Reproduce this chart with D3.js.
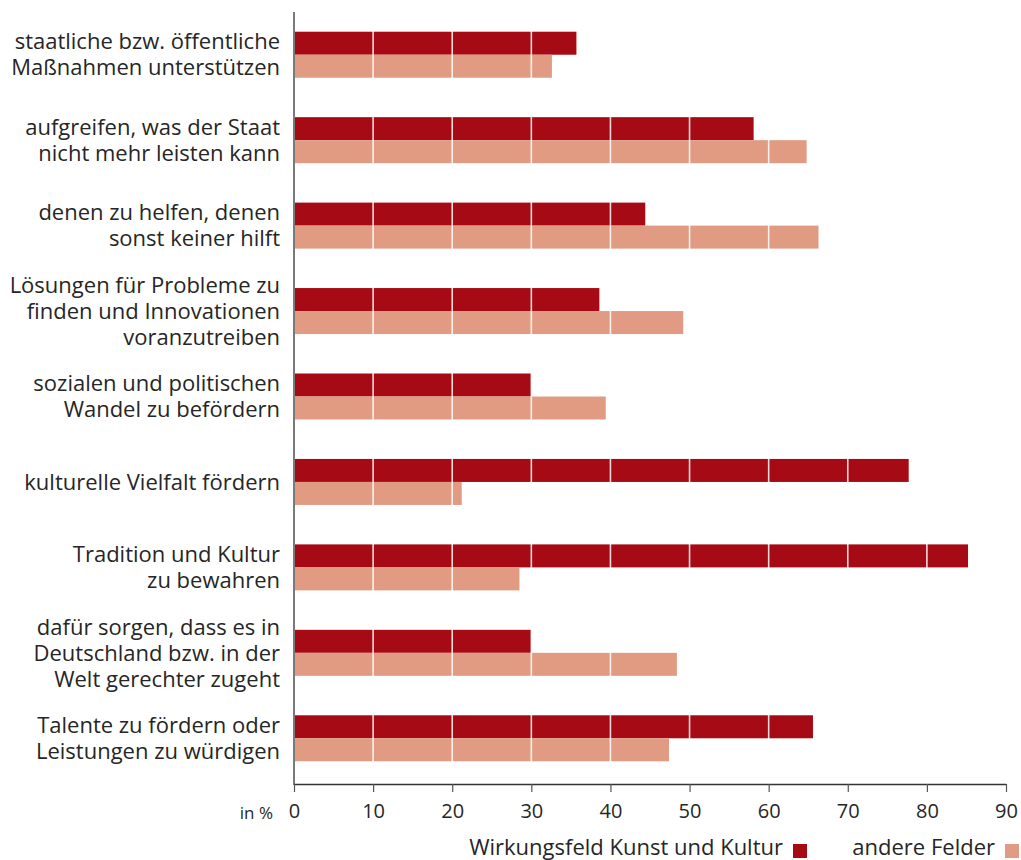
<!DOCTYPE html>
<html>
<head>
<meta charset="utf-8">
<script src="https://cdn.jsdelivr.net/npm/d3@7"></script>
<style>
  body { margin: 0; background: #fff; }
  svg { display: block; font-family: "Open Sans", sans-serif; }
</style>
</head>
<body>
<div id="chart"></div>
<script>
const categories = [
  ["staatliche bzw. öffentliche", "Maßnahmen unterstützen"],
  ["aufgreifen, was der Staat", "nicht mehr leisten kann"],
  ["denen zu helfen, denen", "sonst keiner hilft"],
  ["Lösungen für Probleme zu", "finden und Innovationen", "voranzutreiben"],
  ["sozialen und politischen", "Wandel zu befördern"],
  ["kulturelle Vielfalt fördern"],
  ["Tradition und Kultur", "zu bewahren"],
  ["dafür sorgen, dass es in", "Deutschland bzw. in der", "Welt gerechter zugeht"],
  ["Talente zu fördern oder", "Leistungen zu würdigen"]
];
const kunstKultur = [35.7, 58.1, 44.4, 38.6, 30.0, 77.7, 85.2, 30.0, 65.6];
const andereFelder = [32.6, 64.8, 66.3, 49.2, 39.4, 21.2, 28.5, 48.4, 47.4];
const seriesNames = ["Wirkungsfeld Kunst und Kultur", "andere Felder"];
const xTicks = [0, 10, 20, 30, 40, 50, 60, 70, 80, 90];

const width = 1021, height = 860;
const colors = ["#a60a15", "#e19b83"];

const x = d3.scaleLinear().domain([0, 90]).range([294, 1006]);
const y = d3.scaleBand().domain(d3.range(categories.length)).range([12, 781]);
const barH = 23;

const svg = d3.select("#chart").append("svg")
  .attr("width", width).attr("height", height);

const groups = svg.append("g").selectAll("g")
  .data(categories)
  .join("g")
  .attr("transform", (d, i) => `translate(0,${y(i) + y.bandwidth() / 2})`);

groups.append("rect")
  .attr("x", x(0))
  .attr("y", -barH)
  .attr("height", barH)
  .attr("width", (d, i) => x(kunstKultur[i]) - x(0))
  .attr("fill", colors[0]);

groups.append("rect")
  .attr("x", x(0))
  .attr("y", 0)
  .attr("height", barH)
  .attr("width", (d, i) => x(andereFelder[i]) - x(0))
  .attr("fill", colors[1]);

// white grid lines over the bars
svg.append("g").selectAll("line")
  .data(xTicks.slice(1))
  .join("line")
  .attr("x1", d => x(d)).attr("x2", d => x(d))
  .attr("y1", 12).attr("y2", 781)
  .attr("stroke", "#fff")
  .attr("stroke-opacity", 0.85)
  .attr("stroke-width", 1.6);

// category labels
groups.append("text")
  .attr("text-anchor", "end")
  .attr("fill", "#262626")
  .style("font-size", "22px")
  .selectAll("tspan")
  .data(d => d.map((t, j) => ({ t, j, n: d.length })))
  .join("tspan")
  .attr("x", 280)
  .attr("y", d => (d.j - (d.n - 1) / 2) * 26)
  .attr("dy", "0.35em")
  .text(d => d.t);

// left axis line
svg.append("line")
  .attr("x1", x(0)).attr("x2", x(0))
  .attr("y1", 12).attr("y2", 785)
  .attr("stroke", "#7a7a7a")
  .attr("stroke-width", 2);

// bottom axis
const xAxis = svg.append("g")
  .attr("transform", "translate(0,784)")
  .call(d3.axisBottom(x).tickValues(xTicks).tickSize(8).tickPadding(12).tickSizeOuter(0));
xAxis.select(".domain").attr("stroke", "#333").attr("stroke-width", 1.5);
xAxis.selectAll(".tick line").attr("stroke", "#555").attr("stroke-width", 1.2);
xAxis.selectAll(".tick text")
  .attr("fill", "#262626")
  .style("font-size", "20px")
  .style("font-family", "'Open Sans', sans-serif");

svg.append("text")
  .attr("x", 273).attr("y", 813)
  .attr("dy", "0.35em")
  .attr("text-anchor", "end")
  .attr("fill", "#262626")
  .style("font-size", "17px")
  .text("in %");

// legend
const legend = [
  { name: seriesNames[0], color: colors[0], sq: 793 },
  { name: seriesNames[1], color: colors[1], sq: 1005 }
];
const lg = svg.append("g").selectAll("g")
  .data(legend)
  .join("g");
lg.append("text")
  .attr("x", d => d.sq - 10)
  .attr("y", 847)
  .attr("dy", "0.35em")
  .attr("text-anchor", "end")
  .attr("fill", "#262626")
  .style("font-size", "22px")
  .text(d => d.name);
lg.append("rect")
  .attr("x", d => d.sq)
  .attr("y", 844)
  .attr("width", 14)
  .attr("height", 14)
  .attr("fill", d => d.color);
</script>
</body>
</html>
